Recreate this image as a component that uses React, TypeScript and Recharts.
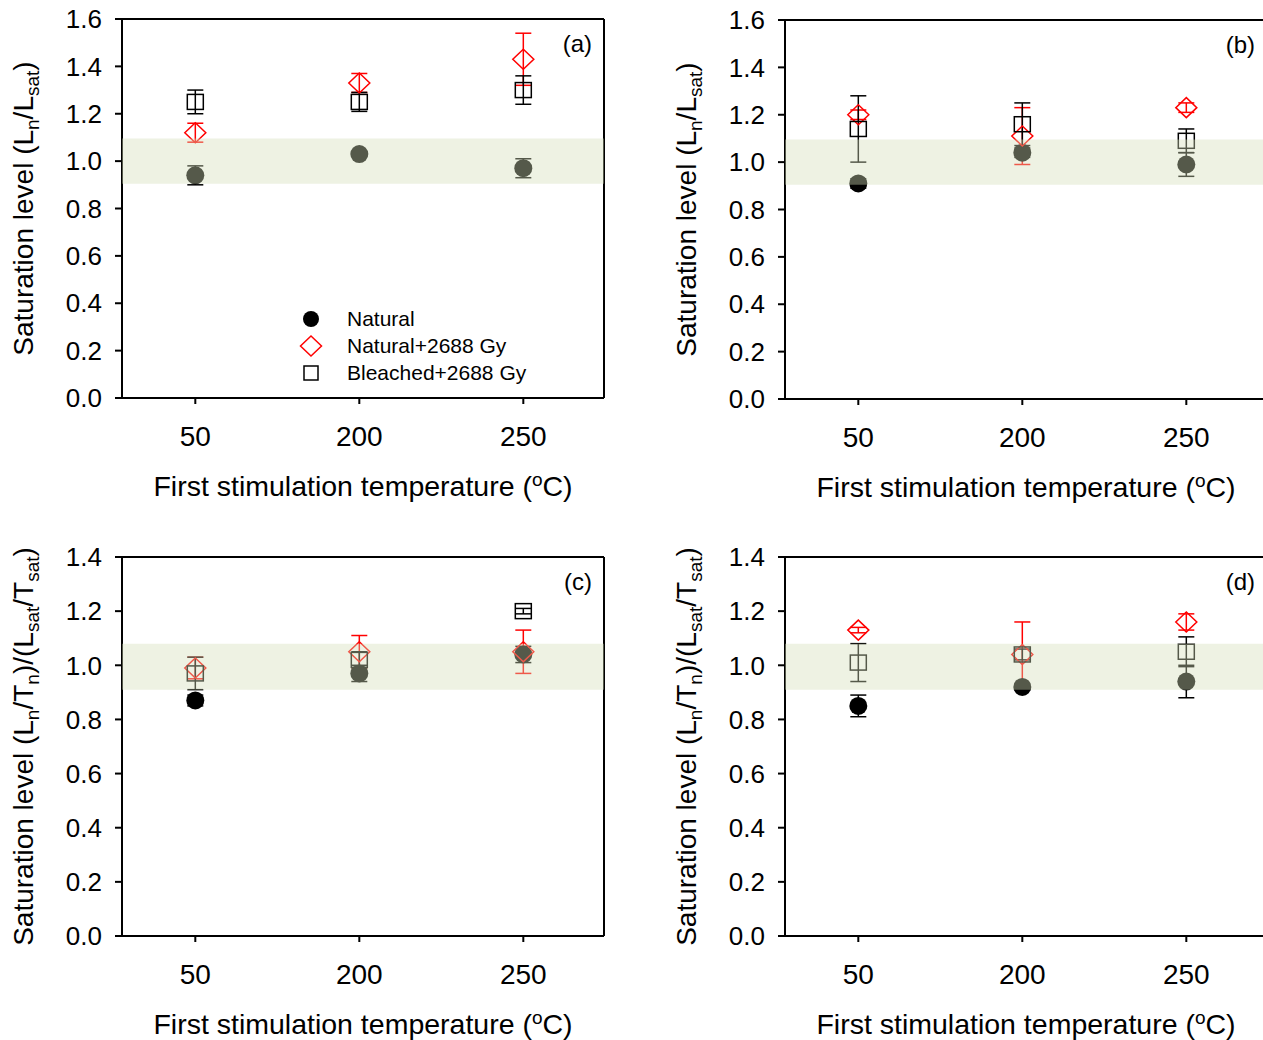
import React from 'react';
import { ScatterChart, Scatter, XAxis, YAxis, ErrorBar, ReferenceArea, ReferenceLine, Legend, Label } from 'recharts';

// categories (first stimulation temperature, °C)
const temps = ['50', '200', '250'];
const seriesNames = ['Natural', 'Natural+2688 Gy', 'Bleached+2688 Gy'];

const ticksTop = [0, 0.2, 0.4, 0.6, 0.8, 1.0, 1.2, 1.4, 1.6];
const ticksBottom = [0, 0.2, 0.4, 0.6, 0.8, 1.0, 1.2, 1.4];

// shaded "saturated" band
const bandTop = [0.905, 1.095];
const bandBottom = [0.91, 1.08];

// (a) Ln/Lsat
const aNatural = [0.94, 1.03, 0.97];
const aNaturalErr = [0.04, 0.01, 0.04];
const aNatGy = [1.12, 1.33, 1.43];
const aNatGyErr = [0.04, 0.04, 0.11];
const aBleached = [1.25, 1.25, 1.3];
const aBleachedErr = [0.05, 0.04, 0.06];

// (b) Ln/Lsat
const bNatural = [0.91, 1.04, 0.99];
const bNaturalErr = [0.02, 0.02, 0.05];
const bNatGy = [1.2, 1.11, 1.23];
const bNatGyErr = [0.02, 0.12, 0.02];
const bBleached = [1.14, 1.16, 1.09];
const bBleachedErr = [0.14, 0.09, 0.05];

// (c) (Ln/Tn)/(Lsat/Tsat)
const cNatural = [0.87, 0.97, 1.04];
const cNaturalErr = [0.02, 0.03, 0.03];
const cNatGy = [0.99, 1.05, 1.05];
const cNatGyErr = [0.04, 0.06, 0.08];
const cBleached = [0.97, 1.02, 1.2];
const cBleachedErr = [0.06, 0.03, 0.01];

// (d) (Ln/Tn)/(Lsat/Tsat)
const dNatural = [0.85, 0.92, 0.94];
const dNaturalErr = [0.04, 0.01, 0.06];
const dNatGy = [1.13, 1.04, 1.16];
const dNatGyErr = [0.01, 0.12, 0.03];
const dBleached = [1.01, 1.04, 1.05];
const dBleachedErr = [0.07, 0.02, 0.055];

type Part = [string, number];

const titleLsat: Part[] = [['Saturation level (L', 0], ['n', 6], ['/L', 0], ['sat', 6], [')', 0]];
const titleRatio: Part[] = [
  ['Saturation level (L', 0], ['n', 6], ['/T', 0], ['n', 6], [')/(L', 0], ['sat', 6], ['/T', 0], ['sat', 6], [')', 0],
];
const titleX: Part[] = [['First stimulation temperature (', 0], ['o', -10], ['C)', 0]];

const FONT = '"Liberation Sans", Arial, Helvetica, sans-serif';
const RED = '#ff0000';

const rich = (parts: Part[], small: number) => {
  let cur = 0;
  return parts.map(([t, s], i) => {
    const dy = s - cur;
    cur = s;
    return (
      <tspan key={i} dy={dy} fontSize={s !== 0 ? small : undefined}>
        {t}
      </tspan>
    );
  });
};

const toPoints = (vals: number[], errs: number[]) =>
  temps.map((t, i) => ({ x: i, temp: t, y: vals[i], err: errs[i] }));

const DotShape = (p: any) => <circle cx={p.cx} cy={p.cy} r={9} fill="#000" />;
const DiamondShape = (p: any) => (
  <polygon
    points={`${p.cx},${p.cy - 10} ${p.cx + 10.5},${p.cy} ${p.cx},${p.cy + 10} ${p.cx - 10.5},${p.cy}`}
    fill="none"
    stroke={RED}
    strokeWidth={1.5}
  />
);
const SquareShape = (p: any) => (
  <rect x={p.cx - 8} y={p.cy - 7.5} width={16} height={15} fill="none" stroke="#000" strokeWidth={1.5} />
);

const YTitle = (props: any) => {
  const { x, y, width, height } = props.viewBox;
  const px = x + width - 89;
  const py = y + height / 2;
  return (
    <text x={px} y={py} transform={`rotate(-90, ${px}, ${py})`} textAnchor="middle" fontSize={28} fill="#000">
      {rich(props.parts, 19)}
    </text>
  );
};

const XTitle = (props: any) => {
  const { x, y, width } = props.viewBox;
  return (
    <text x={x + width / 2} y={y + 98} textAnchor="middle" fontSize={28.5} fill="#000">
      {rich(titleX, 19)}
    </text>
  );
};

const Tag = (props: any) => {
  const { x, y, width } = props.viewBox;
  return (
    <text x={x + width - 12} y={y + 33} textAnchor="end" fontSize={24} fill="#000">
      {props.tag}
    </text>
  );
};

const LegendBox = () => {
  const marks = [
    <circle cx={12} cy={12} r={8} fill="#000" />,
    <polygon points="12,2 22.5,12 12,22 1.5,12" fill="none" stroke={RED} strokeWidth={1.5} />,
    <rect x={5} y={5} width={14} height={14} fill="none" stroke="#000" strokeWidth={1.5} />,
  ];
  return (
    <div style={{ fontSize: 21, color: '#000' }}>
      {seriesNames.map((n, i) => (
        <div key={n} style={{ display: 'flex', alignItems: 'center', height: 27 }}>
          <svg width={24} height={24}>{marks[i]}</svg>
          <span style={{ marginLeft: 24 }}>{n}</span>
        </div>
      ))}
    </div>
  );
};

interface PanelProps {
  left: number;
  top: number;
  mTop: number;
  mBottom: number;
  yMax: number;
  yTicks: number[];
  band: number[];
  nat: number[];
  natErr: number[];
  gy: number[];
  gyErr: number[];
  bl: number[];
  blErr: number[];
  tag: string;
  yTitle: Part[];
  legend?: boolean;
}

const axisLine = { stroke: '#000', strokeWidth: 2 };
const xDomain = [-0.447, 2.492];

const Panel = (p: PanelProps) => (
  <div style={{ position: 'absolute', left: p.left, top: p.top }}>
    <ScatterChart width={630} height={520} margin={{ top: p.mTop, right: 26, bottom: p.mBottom, left: 0 }}>
      <XAxis
        dataKey="x"
        type="number"
        domain={xDomain}
        allowDataOverflow
        ticks={[0, 1, 2]}
        interval={0}
        tickFormatter={(v: number) => temps[v]}
        height={110}
        tickSize={6}
        tickMargin={22}
        tick={{ fontSize: 28, fill: '#000' }}
        tickLine={axisLine}
        axisLine={axisLine}
      >
        <Label content={<XTitle />} />
      </XAxis>
      <YAxis
        dataKey="y"
        type="number"
        domain={[0, p.yMax]}
        ticks={p.yTicks}
        interval={0}
        tickFormatter={(v: number) => v.toFixed(1)}
        width={122}
        tickSize={7}
        tickMargin={13}
        tick={{ fontSize: 26, fill: '#000' }}
        tickLine={axisLine}
        axisLine={axisLine}
      >
        <Label content={<YTitle parts={p.yTitle} />} />
      </YAxis>
      {/* frame: top and right borders */}
      <ReferenceLine y={p.yMax} stroke="#000" strokeWidth={2}>
        <Label content={<Tag tag={p.tag} />} />
      </ReferenceLine>
      <ReferenceLine x={xDomain[1]} stroke="#000" strokeWidth={2} />
      <Scatter name={seriesNames[0]} data={toPoints(p.nat, p.natErr)} shape={DotShape} isAnimationActive={false}>
        <ErrorBar dataKey="err" direction="y" width={8} stroke="#000" strokeWidth={1.5} isAnimationActive={false} />
      </Scatter>
      <Scatter name={seriesNames[1]} data={toPoints(p.gy, p.gyErr)} shape={DiamondShape} isAnimationActive={false}>
        <ErrorBar dataKey="err" direction="y" width={8} stroke={RED} strokeWidth={1.5} isAnimationActive={false} />
      </Scatter>
      <Scatter name={seriesNames[2]} data={toPoints(p.bl, p.blErr)} shape={SquareShape} isAnimationActive={false}>
        <ErrorBar dataKey="err" direction="y" width={8} stroke="#000" strokeWidth={1.5} isAnimationActive={false} />
      </Scatter>
      <ReferenceArea
        y1={p.band[0]}
        y2={p.band[1]}
        fill="rgb(212,222,184)"
        fillOpacity={0.4}
        stroke="none"
        zIndex={700}
      />
      {p.legend && (
        <Legend
          layout="vertical"
          align="center"
          verticalAlign="middle"
          content={<LegendBox />}
          wrapperStyle={{ left: 299, top: 305, width: 260, height: 81 }}
        />
      )}
    </ScatterChart>
  </div>
);

export default function App() {
  return (
    <div
      style={{
        position: 'absolute',
        left: 0,
        top: 0,
        width: 1263,
        height: 1040,
        overflow: 'hidden',
        background: '#fff',
        fontFamily: FONT,
      }}
    >
      <Panel
        left={0} top={0} mTop={19} mBottom={12} yMax={1.6} yTicks={ticksTop} band={bandTop}
        nat={aNatural} natErr={aNaturalErr} gy={aNatGy} gyErr={aNatGyErr} bl={aBleached} blErr={aBleachedErr}
        tag="(a)" yTitle={titleLsat} legend
      />
      <Panel
        left={663} top={0} mTop={20} mBottom={11} yMax={1.6} yTicks={ticksTop} band={bandTop}
        nat={bNatural} natErr={bNaturalErr} gy={bNatGy} gyErr={bNatGyErr} bl={bBleached} blErr={bBleachedErr}
        tag="(b)" yTitle={titleLsat}
      />
      <Panel
        left={0} top={538} mTop={19} mBottom={12} yMax={1.4} yTicks={ticksBottom} band={bandBottom}
        nat={cNatural} natErr={cNaturalErr} gy={cNatGy} gyErr={cNatGyErr} bl={cBleached} blErr={cBleachedErr}
        tag="(c)" yTitle={titleRatio}
      />
      <Panel
        left={663} top={538} mTop={19} mBottom={12} yMax={1.4} yTicks={ticksBottom} band={bandBottom}
        nat={dNatural} natErr={dNaturalErr} gy={dNatGy} gyErr={dNatGyErr} bl={dBleached} blErr={dBleachedErr}
        tag="(d)" yTitle={titleRatio}
      />
    </div>
  );
}
